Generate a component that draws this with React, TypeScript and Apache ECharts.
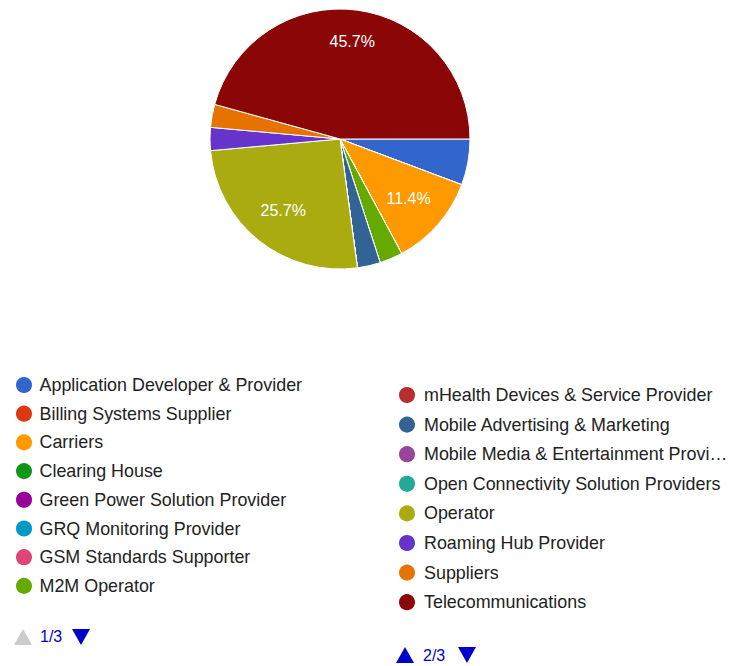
import React, { useEffect, useRef } from "react";
import * as echarts from "echarts";

const categories = [
  "Application Developer & Provider",
  "Billing Systems Supplier",
  "Carriers",
  "Clearing House",
  "Green Power Solution Provider",
  "GRQ Monitoring Provider",
  "GSM Standards Supporter",
  "M2M Operator",
  "mHealth Devices & Service Provider",
  "Mobile Advertising & Marketing",
  "Mobile Media & Entertainment Provider",
  "Open Connectivity Solution Providers",
  "Operator",
  "Roaming Hub Provider",
  "Suppliers",
  "Telecommunications",
];
const values = [2, 0, 4, 0, 0, 0, 0, 1, 0, 1, 0, 0, 9, 1, 1, 16];
const colors = [
  "#3366cc", "#dc3912", "#ff9900", "#109618", "#990099", "#0099c6", "#dd4477", "#66aa00",
  "#b82e2e", "#316395", "#994499", "#22aa99", "#aaaa11", "#6633cc", "#e67300", "#8b0707",
];
const pageLabels = ["1/3", "2/3"];

const FONT = "'Liberation Sans', Arial, sans-serif";

export default function App() {
  const ref = useRef<HTMLDivElement>(null);
  useEffect(() => {
    if (!ref.current) return;
    const chart = echarts.init(ref.current, null, { renderer: "svg" });
    const total = values.reduce((a, b) => a + b, 0);
    const maxV = Math.max(...values);
    const data = categories.map((name, i) => ({
      name,
      value: values[i],
      itemStyle: { color: colors[i] },
    }));
    const legendText = (padLeft: number) => ({
      color: "#222222",
      fontSize: 17.9,
      fontFamily: FONT,
      padding: [0, 0, 0, padLeft],
      width: 310,
      overflow: "truncate" as const,
      ellipsis: "…",
    });
    chart.setOption({
      animation: false,
      color: colors,
      legend: [
        {
          orient: "vertical",
          left: 14,
          top: 375,
          padding: 0,
          icon: "circle",
          itemWidth: 18,
          itemHeight: 18,
          itemGap: 8.7,
          selectedMode: false,
          data: categories.slice(0, 8),
          textStyle: legendText(1.5),
        },
        {
          orient: "vertical",
          left: 397,
          top: 385,
          padding: 0,
          icon: "circle",
          itemWidth: 18,
          itemHeight: 18,
          itemGap: 9.6,
          selectedMode: false,
          data: categories.slice(8, 16),
          textStyle: legendText(3),
        },
      ],
      series: [
        {
          type: "pie",
          center: [340, 139],
          radius: [0, 130],
          startAngle: 0,
          clockwise: true,
          minShowLabelAngle: 0,
          itemStyle: { borderColor: "#ffffff", borderWidth: 1 },
          label: { show: false },
          labelLine: { show: false },
          emphasis: { disabled: true },
          data,
        },
        {
          type: "pie",
          center: [340, 139],
          radius: [0, 176],
          startAngle: 0,
          clockwise: true,
          silent: true,
          legendHoverLink: false,
          itemStyle: { color: "rgba(0,0,0,0)", borderWidth: 0 },
          labelLine: { show: false },
          label: {
            show: true,
            position: "inside",
            color: "#ffffff",
            fontSize: 16,
            lineHeight: 14,
            fontFamily: FONT,
            formatter: (p: any) => {
              if (p.value / total < 0.1) return "";
              const t = ((p.value / total) * 100).toFixed(1) + "%";
              return p.value === maxV ? t + "\n " : t;
            },
          },
          emphasis: { disabled: true },
          data: categories.map((name, i) => ({ name: name + " ", value: values[i] })),
        },
      ],
      graphic: [
        { type: "polygon", shape: { points: [[23, 629], [32, 645], [14, 645]] }, style: { fill: "#cccccc" } },
        {
          type: "text",
          left: 40,
          top: 628,
          style: { text: pageLabels[0], fill: "#0000cc", fontSize: 16, fontFamily: FONT },
        },
        { type: "polygon", shape: { points: [[72, 629], [90, 629], [81, 645]] }, style: { fill: "#0000cc" } },
        { type: "polygon", shape: { points: [[405, 647], [414, 663], [396, 663]] }, style: { fill: "#0000cc" } },
        {
          type: "text",
          left: 423,
          top: 647,
          style: { text: pageLabels[1], fill: "#0000cc", fontSize: 16, fontFamily: FONT },
        },
        { type: "polygon", shape: { points: [[458, 647], [476, 647], [467, 663]] }, style: { fill: "#0000cc" } },
      ],
    });
    return () => chart.dispose();
  }, []);
  return (
    <div
      ref={ref}
      style={{ position: "fixed", left: 0, top: 0, width: 733, height: 666, background: "#ffffff" }}
    />
  );
}
